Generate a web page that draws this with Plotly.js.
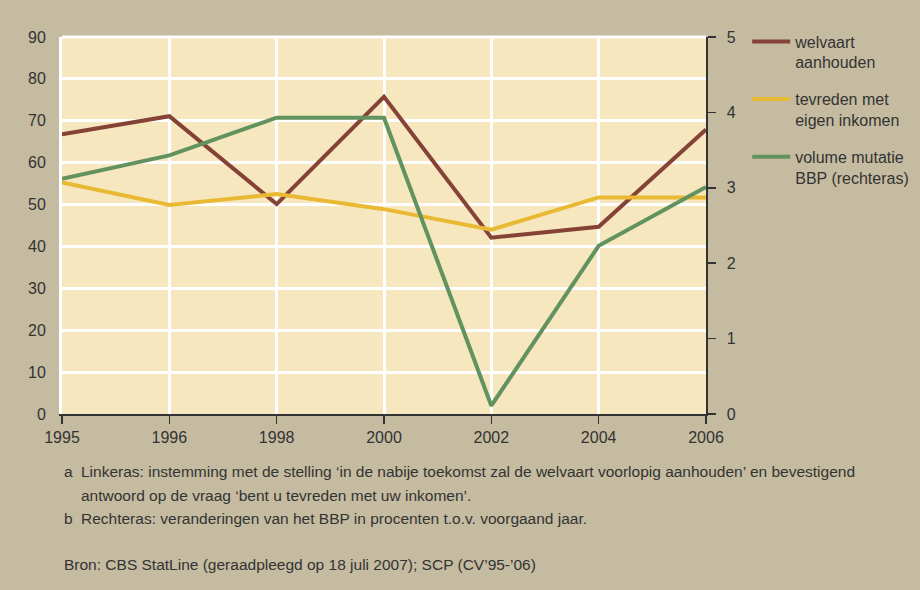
<!DOCTYPE html>
<html>
<head>
<meta charset="utf-8">
<script src="https://cdn.plot.ly/plotly-3.0.1.min.js"></script>
<style>
  html, body { margin: 0; padding: 0; background: #c5bba0; }
  #chart { width: 920px; height: 590px; }
</style>
</head>
<body>
<div id="chart"></div>
<script>
// jaren (categorie-as)
var jaren = ['1995', '1996', '1998', '2000', '2002', '2004', '2006'];

// linkeras, procenten
var welvaart = [66.8, 71.1, 50.1, 75.7, 42.1, 44.7, 67.9];
var tevreden = [55.3, 49.9, 52.5, 48.9, 44.0, 51.7, 51.7];

// rechteras, volume mutatie BBP
var bbp = [3.12, 3.43, 3.93, 3.93, 0.11, 2.23, 3.01];

var linksTicks = [0, 10, 20, 30, 40, 50, 60, 70, 80, 90];
var rechtsTicks = [0, 1, 2, 3, 4, 5];

var namen = ['welvaart<br>aanhouden', 'tevreden met<br>eigen inkomen', 'volume mutatie<br>BBP (rechteras)'];

var voetnoten = [
  ['a', 'Linkeras: instemming met de stelling \u2018in de nabije toekomst zal de welvaart voorlopig aanhouden\u2019 en bevestigend'],
  ['', 'antwoord op de vraag \u2018bent u tevreden met uw inkomen\u2019.'],
  ['b', 'Rechteras: veranderingen van het BBP in procenten t.o.v. voorgaand jaar.'],
  ['', ''],
  ['', 'Bron: CBS StatLine (geraadpleegd op 18 juli 2007); SCP (CV\u201995-\u201906)']
];

var font = 'Liberation Sans, Arial, sans-serif';

var traces = [
  { x: jaren, y: welvaart, name: namen[0], type: 'scatter', mode: 'lines',
    line: { color: '#854236', width: 4 }, legendgroup: 'a' },
  { x: jaren, y: tevreden, name: namen[1], type: 'scatter', mode: 'lines',
    line: { color: '#e9b934', width: 4 }, legendgroup: 'b' },
  { x: jaren, y: bbp, name: namen[2], type: 'scatter', mode: 'lines', yaxis: 'y2',
    line: { color: '#62935f', width: 4 }, legendgroup: 'c' }
];

// voetnoten als annotaties (pixelposities omgerekend naar paper)
var annos = [];
var plotL = 62, plotW = 644, plotB = 414, plotH = 377;
for (var i = 0; i < voetnoten.length; i++) {
  var py = 472 + i * 23;
  if (i == 4) py = 564;
  if (voetnoten[i][0] != '') {
    annos.push({ xref: 'paper', yref: 'paper', x: (62 - plotL) / plotW, y: (plotB - py) / plotH,
      xanchor: 'left', yanchor: 'middle', showarrow: false, text: voetnoten[i][0],
      font: { family: font, size: 15.5, color: '#333' } });
  }
  if (voetnoten[i][1] != '') {
    var px = (i == 4) ? 62 : 79;
    annos.push({ xref: 'paper', yref: 'paper', x: (px - plotL) / plotW, y: (plotB - py) / plotH,
      xanchor: 'left', yanchor: 'middle', showarrow: false, text: voetnoten[i][1],
      font: { family: font, size: 15.5, color: '#333' } });
  }
}

var layout = {
  width: 920, height: 590,
  paper_bgcolor: '#c5bba0',
  plot_bgcolor: '#f6e7be',
  margin: { l: 62, r: 214, t: 37, b: 176, autoexpand: false },
  font: { family: font, size: 16, color: '#333' },
  showlegend: true,
  legend: {
    x: 1.064, y: 1.033, xanchor: 'left', yanchor: 'top',
    bgcolor: 'rgba(0,0,0,0)', valign: 'top', traceorder: 'grouped',
    tracegroupgap: 13, itemwidth: 38,
    font: { family: font, size: 16, color: '#333' }
  },
  xaxis: {
    type: 'category', categoryarray: jaren, range: [0, 6],
    showgrid: true, gridcolor: '#ffffff', gridwidth: 3,
    showline: true, linecolor: '#333', linewidth: 1.5,
    ticks: 'outside', ticklen: 8, tickcolor: '#333', tickwidth: 1.5,
    zeroline: false, tickfont: { size: 16 }
  },
  yaxis: {
    range: [0, 90], tickvals: linksTicks, ticktext: linksTicks.map(String),
    showgrid: true, gridcolor: '#ffffff', gridwidth: 3,
    zeroline: false, showline: true, linecolor: '#ffffff', linewidth: 3,
    ticks: '', ticklabelstandoff: 10, tickfont: { size: 16 }
  },
  yaxis2: {
    overlaying: 'y', side: 'right', range: [0, 5],
    tickvals: rechtsTicks, ticktext: rechtsTicks.map(String),
    showgrid: false, zeroline: false,
    showline: true, linecolor: '#333', linewidth: 1.5,
    ticks: 'outside', ticklen: 8, tickcolor: '#333', tickwidth: 1.5,
    ticklabelstandoff: 8, tickfont: { size: 16 }
  },
  // witte rand bovenaan het plotvlak
  shapes: [
    { type: 'line', xref: 'paper', yref: 'paper', x0: 0, x1: 1, y0: 1, y1: 1,
      line: { color: '#ffffff', width: 3 }, layer: 'below' }
  ],
  annotations: annos
};

Plotly.newPlot('chart', traces, layout, { staticPlot: true });
</script>
</body>
</html>
